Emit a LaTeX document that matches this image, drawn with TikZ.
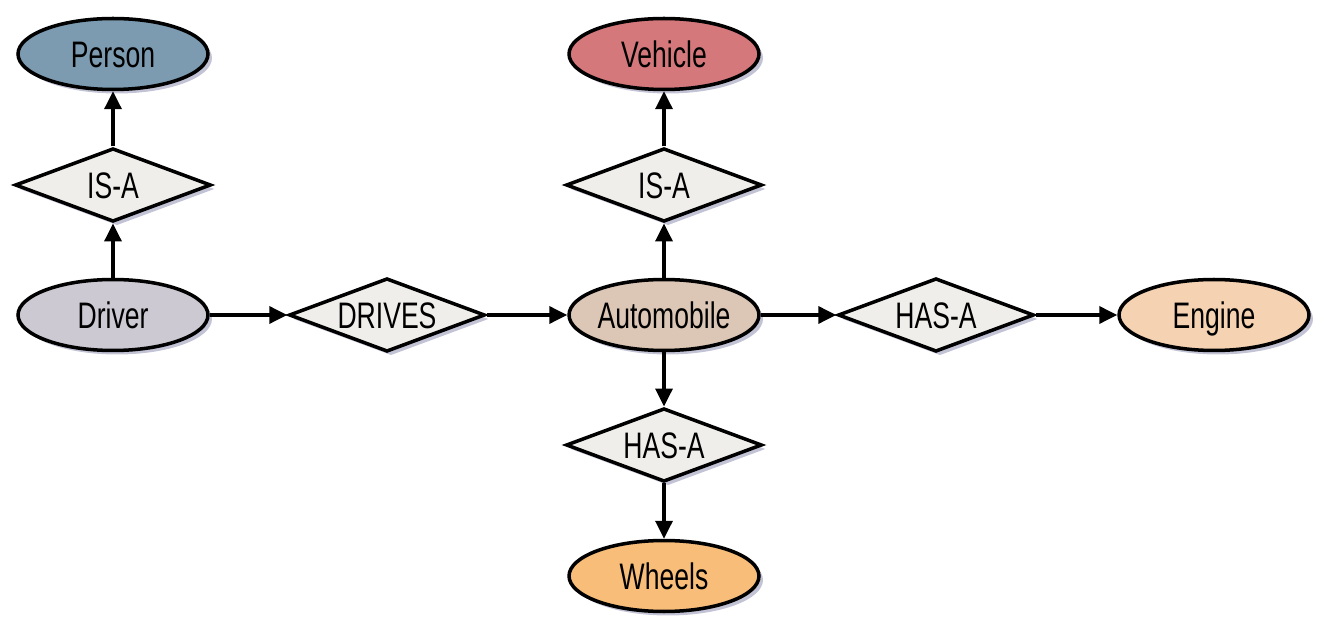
\documentclass[tikz,border=0pt]{standalone}
\usepackage{fontspec}
\setmainfont{Liberation Sans}[FakeStretch=0.72]
\usetikzlibrary{shapes.geometric,arrows.meta,shadows}
\definecolor{cperson}{HTML}{7C9AB0}
\definecolor{cvehicle}{HTML}{D4787C}
\definecolor{cdriver}{HTML}{CCC9D3}
\definecolor{cauto}{HTML}{DCC7B6}
\definecolor{cengine}{HTML}{F5D3B2}
\definecolor{cwheels}{HTML}{F8BD79}
\definecolor{cdiam}{HTML}{F0EEEA}
\definecolor{cshadow}{HTML}{A9A9C4}
\tikzset{
  ent/.style={ellipse, draw=black, line width=2pt, minimum width=3.8cm, minimum height=1.42cm,
    inner sep=0pt, font=\fontsize{21}{24}\selectfont, text height=15pt, text depth=0pt,
    drop shadow={shadow xshift=0.08cm, shadow yshift=-0.08cm, fill=cshadow, opacity=0.7}},
  rel/.style={diamond, draw=black, line width=2pt, fill=cdiam, aspect=2.7,
    minimum width=3.92cm, minimum height=1.47cm, inner sep=0pt,
    font=\fontsize{21}{24}\selectfont, text height=15pt, text depth=0pt,
    drop shadow={shadow xshift=0.08cm, shadow yshift=-0.08cm, fill=cshadow, opacity=0.7}},
  conn/.style={line width=2pt, -{Triangle[length=0.36cm,width=0.34cm]}}
}
\begin{document}
\begin{tikzpicture}[x=0.02cm,y=-0.02cm]
\useasboundingbox (0,0) rectangle (1337,644);
\node[ent, fill=cperson] (person) at (113,54) {Person};
\node[rel] (isa1) at (113,185) {IS-A};
\node[ent, fill=cdriver] (driver) at (113,315) {Driver};
\node[rel] (drives) at (387,315) {DRIVES};
\node[ent, fill=cauto] (auto) at (664,315) {Automobile};
\node[rel] (isa2) at (664,185) {IS-A};
\node[ent, fill=cvehicle] (vehicle) at (664,54) {Vehicle};
\node[rel] (hasa1) at (936,315) {HAS-A};
\node[ent, fill=cengine] (engine) at (1214,315) {Engine};
\node[rel] (hasa2) at (664,445) {HAS-A};
\node[ent, fill=cwheels] (wheels) at (664,576) {Wheels};
\draw[conn] (driver) -- (isa1);
\draw[conn] (isa1) -- (person);
\draw[conn] (driver) -- (drives);
\draw[conn] (drives) -- (auto);
\draw[conn] (auto) -- (isa2);
\draw[conn] (isa2) -- (vehicle);
\draw[conn] (auto) -- (hasa1);
\draw[conn] (hasa1) -- (engine);
\draw[conn] (auto) -- (hasa2);
\draw[conn] (hasa2) -- (wheels);
\end{tikzpicture}
\end{document}
